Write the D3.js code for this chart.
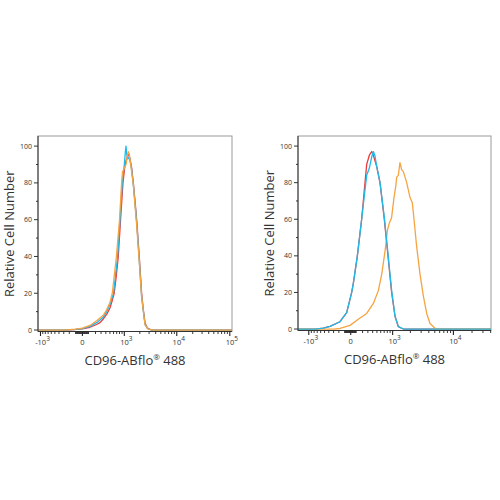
<!DOCTYPE html>
<html>
<head>
<meta charset="utf-8">
<script src="https://cdn.jsdelivr.net/npm/d3@7"></script>
<style>
  body { margin: 0; background: #fff; }
  svg { display: block; font-family: "Open Sans", "Noto Sans", sans-serif; }
</style>
</head>
<body>
<div id="chart"></div>
<script>
// Histogram data: [fluorescence value, relative count]
const leftRed = [[-1100,0],[-300,0],[-100,0.3],[0,0.6],[111,1.5],[219,3],[279,4],[345,6],[418,8.5],[500,12],[545,15],[620,20],[690,30],[755,40],[840,60],[940,80],[1013,88],[1078,92],[1145,94],[1217,96],[1292,93],[1395,88],[1499,80],[1620,70],[1738,60],[1950,40],[2165,20],[2330,11],[2510,4],[2780,1],[3360,0],[110000,0]];
const leftCyan = [[-1100,0],[-300,0],[-100,0.4],[0,0.8],[111,2],[219,4],[345,7],[418,10],[500,14],[600,20],[730,40],[820,60],[910,80],[1000,90],[1050,97],[1078,100],[1120,95],[1180,93],[1250,94],[1300,92],[1395,87],[1499,79],[1738,59],[1950,38],[2165,18],[2510,3],[2900,0.5],[3600,0],[110000,0]];
const leftOrange = [[-1100,0],[-300,0],[-100,0.5],[0,1],[111,2.5],[219,5],[345,8],[418,11],[500,15],[564,20],[690,40],[800,60],[882,80],[920,86],[1000,88],[1080,90],[1150,95],[1200,97],[1260,95],[1350,89],[1499,79],[1738,57],[1950,37],[2165,18],[2510,3],[2900,0.5],[3600,0],[110000,0]];

const rightRed = [[-1530,0],[-768,0],[-531,0.5],[-373,1.5],[-180,4],[-66,9],[16,20],[43,25],[110,40],[184,60],[245,80],[277,90],[330,95],[379,97],[416,95],[493,89],[580,80],[704,60],[812,42],[959,20],[1100,7],[1254,1.3],[1527,0],[40500,0]];
const rightCyan = [[-1530,0],[-768,0],[-531,0.5],[-373,1.5],[-180,4],[-66,9],[16,20],[43,25],[110,40],[184,60],[245,76],[277,84],[330,88],[379,94],[416,97],[450,95],[493,89],[580,80],[704,61],[812,43],[959,21],[1100,7],[1254,1.3],[1527,0],[40500,0]];
const rightOrange = [[-1530,0],[-300,0],[-180,0.3],[-11,2],[155,6],[277,8.5],[416,14],[536,21],[628,30],[730,43],[806,54],[875,58],[959,61],[1057,72],[1132,78],[1177,83],[1254,84],[1338,91],[1430,87],[1527,86],[1735,80],[1968,72],[2150,69],[2293,60],[2536,45],[2875,30],[3262,18],[3697,8.5],[4185,3],[5047,0.4],[5716,0],[40500,0]];

const leftMajor = [-1000, 0, 1000, 10000, 100000];
const rightMajor = [-1000, 0, 1000, 10000];
const yTicks = [0, 20, 40, 60, 80, 100];

const colors = { red: "#ec3b3b", orange: "#f5a442", cyan: "#1cbbec" };

const svg = d3.select("#chart").append("svg")
  .attr("width", 500)
  .attr("height", 500);

function minorTicks(max) {
  const out = [];
  for (let k = 1; k <= 9; k++) { out.push(-k * 10, k * 10); }
  for (let k = 1; k <= 9; k++) { out.push(-k * 100); if (k > 1) out.push(k * 100); }
  for (let e = 3; e <= 5; e++) {
    for (let k = 2; k <= 9; k++) {
      const v = k * Math.pow(10, e);
      if (v < max) out.push(v);
    }
  }
  return out;
}

function drawPanel(opt) {
  const t = v => Math.asinh(v / opt.w);
  const x = d3.scaleLinear()
    .domain([t(opt.xmin), t(opt.xmax)])
    .range([opt.left, opt.right]);
  const y = d3.scaleLinear()
    .domain([-0.8, 105.5])
    .range([opt.bottom, opt.top]);

  const g = svg.append("g");

  // frame
  g.append("rect")
    .attr("x", opt.left)
    .attr("y", opt.top)
    .attr("width", opt.right - opt.left)
    .attr("height", opt.bottom - opt.top)
    .attr("fill", "none")
    .attr("stroke", "#9a9a9a")
    .attr("stroke-width", 1);

  // x axis: minor then major ticks
  const xAxis = g.append("g")
    .attr("transform", `translate(0,${opt.bottom})`);
  xAxis.append("line")
    .attr("x1", opt.left).attr("x2", opt.right)
    .attr("stroke", "#333").attr("stroke-width", 1);
  xAxis.selectAll(".minor")
    .data(minorTicks(opt.xmax))
    .join("line")
      .attr("class", "minor")
      .attr("x1", d => x(t(d))).attr("x2", d => x(t(d)))
      .attr("y1", 0).attr("y2", 2.5)
      .attr("stroke", "#222").attr("stroke-width", 0.9);
  xAxis.selectAll(".major")
    .data(opt.major)
    .join("line")
      .attr("class", "major")
      .attr("x1", d => x(t(d))).attr("x2", d => x(t(d)))
      .attr("y1", 0).attr("y2", 4.5)
      .attr("stroke", "#222").attr("stroke-width", 1.1);

  // curves (drawn over the axis line, like the source)
  const line = d3.line()
    .x(d => x(t(d[0])))
    .y(d => y(d[1]));

  opt.series.forEach(s => {
    g.append("path")
      .datum(s.data)
      .attr("fill", "none")
      .attr("stroke", s.color)
      .attr("stroke-width", 1.3)
      .attr("stroke-linejoin", "round")
      .attr("d", line);
  });

  const labels = xAxis.selectAll(".xl")
    .data(opt.major)
    .join("text")
      .attr("class", "xl")
      .attr("x", d => x(t(d)) + (d === 0 ? 0 : 2))
      .attr("y", 13)
      .attr("text-anchor", "middle")
      .attr("font-size", 7.5)
      .attr("fill", "#333");
  labels.each(function(d) {
    const el = d3.select(this);
    if (d === 0) { el.text("0"); return; }
    const e = Math.round(Math.log10(Math.abs(d)));
    el.append("tspan").text((d < 0 ? "-" : "") + "10");
    el.append("tspan").attr("dy", -3.5).attr("font-size", 6.5).text(e);
  });

  // y axis
  const yAxis = g.append("g")
    .attr("transform", `translate(${opt.left},0)`);
  yAxis.append("line")
    .attr("y1", opt.top).attr("y2", opt.bottom)
    .attr("stroke", "#333");
  yAxis.selectAll(".ym")
    .data(d3.range(10, 100, 20))
    .join("line")
      .attr("class", "ym")
      .attr("x1", 0).attr("x2", -2)
      .attr("y1", d => y(d)).attr("y2", d => y(d))
      .attr("stroke", "#333");
  yAxis.selectAll(".yM")
    .data(yTicks)
    .join("line")
      .attr("class", "yM")
      .attr("x1", 0).attr("x2", -4)
      .attr("y1", d => y(d)).attr("y2", d => y(d))
      .attr("stroke", "#333");
  yAxis.selectAll(".yl")
    .data(yTicks)
    .join("text")
      .attr("class", "yl")
      .attr("x", -6)
      .attr("y", d => y(d) + 2.5)
      .attr("text-anchor", "end")
      .attr("font-size", 7)
      .attr("fill", "#333")
      .text(d => d);

  // axis titles
  const xt = g.append("text")
    .attr("x", (opt.left + opt.right) / 2)
    .attr("y", opt.bottom + 33)
    .attr("text-anchor", "middle")
    .attr("font-size", 13)
    .attr("fill", "#333");
  xt.append("tspan").text("CD96-ABflo");
  xt.append("tspan").attr("dy", -5).attr("font-size", 8).text("®");
  xt.append("tspan").attr("dy", 5).text(" 488");

  g.append("text")
    .attr("transform", `translate(${opt.left - 24},${(opt.top + opt.bottom) / 2}) rotate(-90)`)
    .attr("text-anchor", "middle")
    .attr("font-size", 13)
    .attr("fill", "#333")
    .text("Relative Cell Number");
}

drawPanel({
  left: 38, right: 232, top: 136, bottom: 331.5,
  w: 333, xmin: -1120, xmax: 110000,
  major: leftMajor,
  series: [
    { data: leftRed, color: colors.red },
    { data: leftCyan, color: colors.cyan },
    { data: leftOrange, color: colors.orange }
  ]
});

drawPanel({
  left: 298, right: 491, top: 136, bottom: 330.5,
  w: 440, xmin: -1530, xmax: 40500,
  major: rightMajor,
  series: [
    { data: rightRed, color: colors.red },
    { data: rightOrange, color: colors.orange },
    { data: rightCyan, color: colors.cyan }
  ]
});
</script>
</body>
</html>
